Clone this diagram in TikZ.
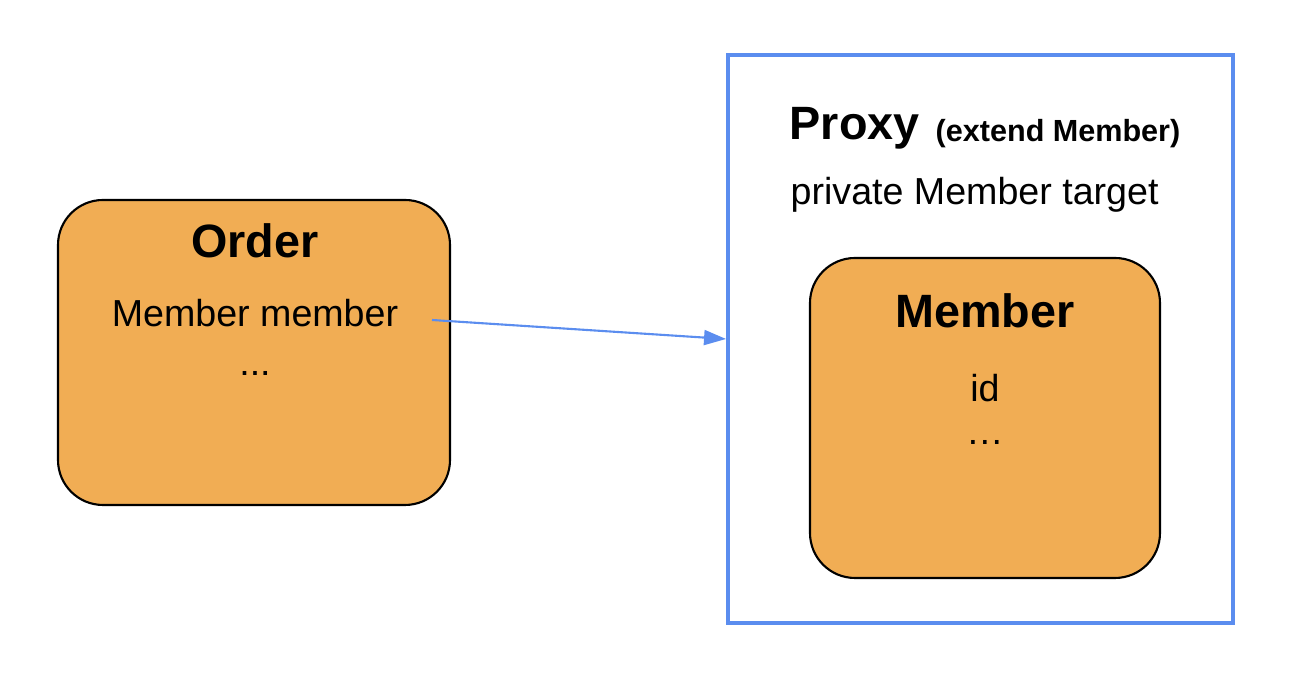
\documentclass[tikz,border=0pt]{standalone}
\usepackage{fontspec}
\setmainfont{Liberation Sans}
\usetikzlibrary{arrows.meta}
\definecolor{boxorange}{RGB}{241,173,84}
\definecolor{proxyblue}{RGB}{91,141,239}

\begin{document}
\begin{tikzpicture}
		[entity/.style={rectangle,rounded corners=0.45cm,draw=black,line width=0.6pt,fill=boxorange},
		 title/.style={anchor=base,font=\fontsize{13.3}{15}\selectfont\bfseries},
		 field/.style={anchor=base,font=\fontsize{10.7}{13}\selectfont}]
		\useasboundingbox (0,0) rectangle (12.98,6.82);

		\node[draw=proxyblue,line width=1.1pt,minimum width=5.05cm,minimum height=5.68cm] (proxy) at (9.805,3.43) {};
		\node[entity,minimum width=3.92cm,minimum height=3.05cm] (order) at (2.54,3.295) {};
		\node[entity,minimum width=3.5cm,minimum height=3.2cm] (member) at (9.85,2.64) {};

		\node[title] (ordername) at (2.55,4.24) {Order};
		\node[field] (orderfield) at (2.55,3.55) {Member member};
		\node[field] (ordermore) at (2.55,3.06) {...};

		\node[title,anchor=base west,inner sep=0pt] (proxyname) at (7.89,5.42) {Proxy};
		\node[anchor=base west,inner sep=0pt,font=\fontsize{8.7}{10}\selectfont\bfseries] (proxyext) at (9.35,5.40) {(extend Member)};
		\node[field,anchor=base west,inner sep=0pt] (proxyfield) at (7.90,4.77) {private Member target};

		\node[title] (membername) at (9.85,3.54) {Member};
		\node[field] (memberid) at (9.85,2.80) {id};
		\node[field] (membermore) at (9.85,2.37) {…};

		\coordinate (ref) at (4.32,3.62);
		\draw[proxyblue,line width=0.6pt,-{Triangle[length=0.22cm,width=0.15cm]}] (ref) -- (proxy.west);

	\end{tikzpicture}
\end{document}
